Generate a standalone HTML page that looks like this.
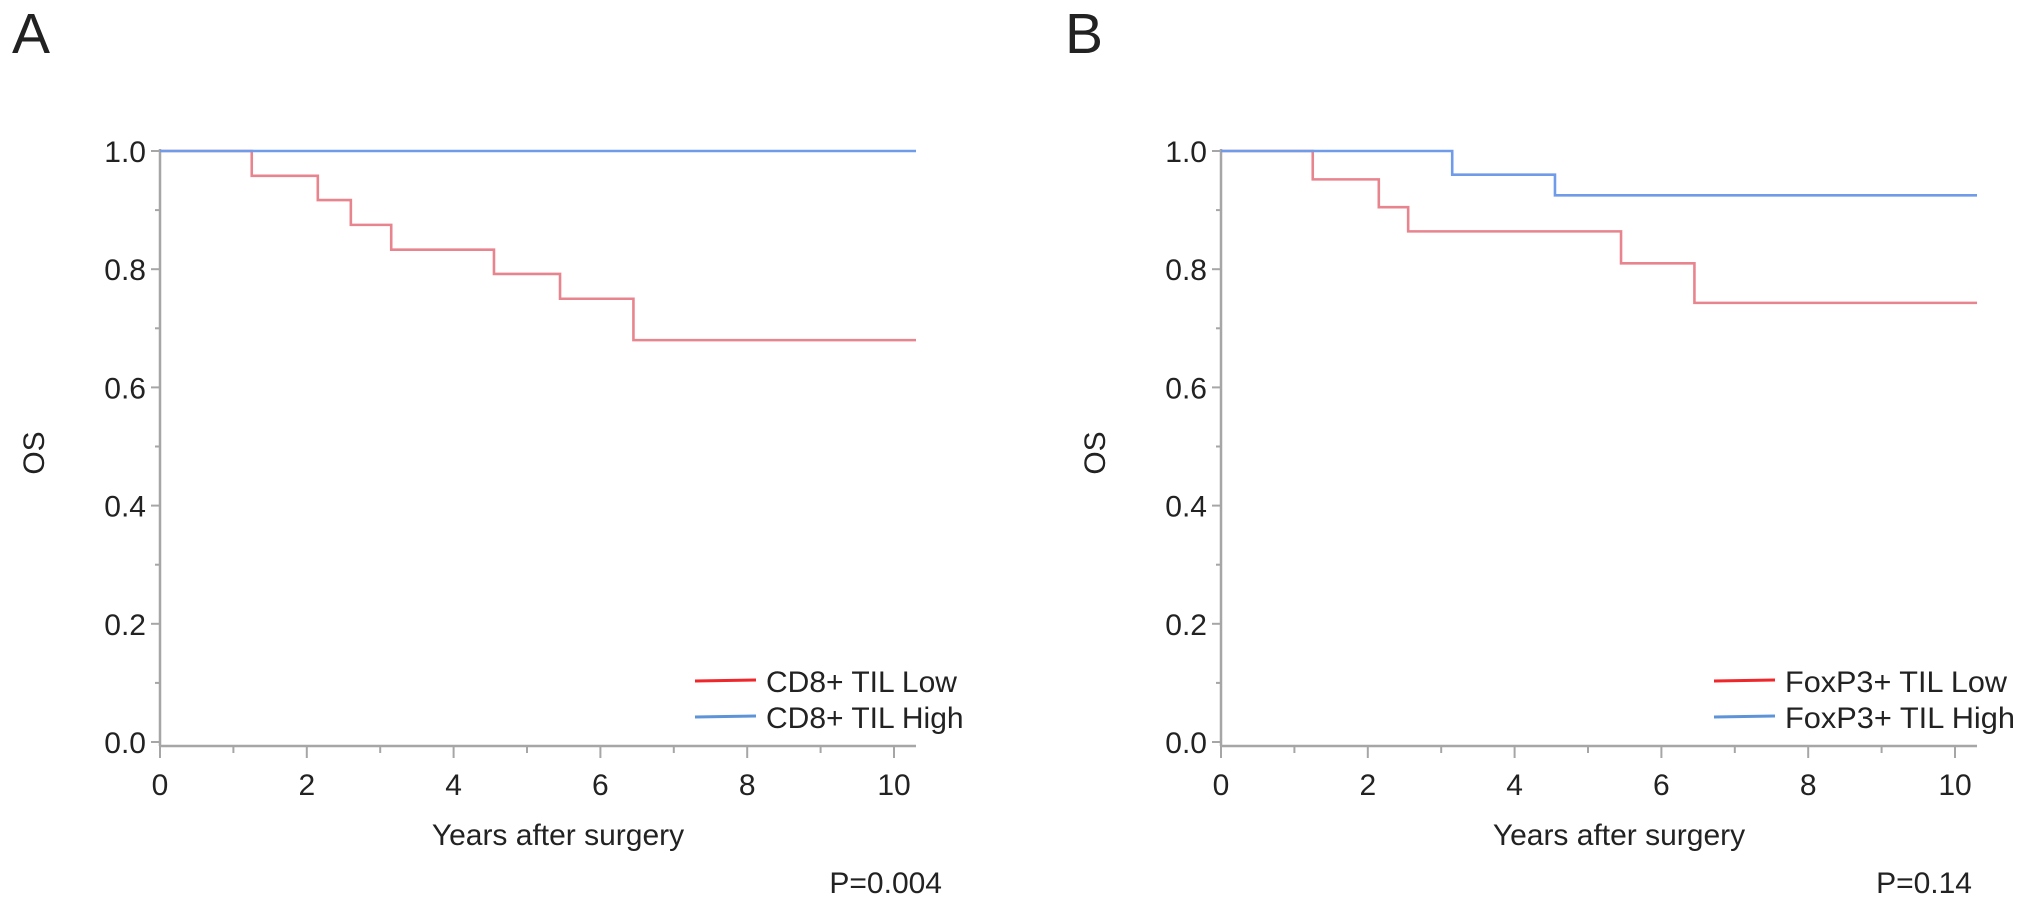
<!DOCTYPE html>
<html><head><meta charset="utf-8">
<style>
html,body{margin:0;padding:0;background:#fff;}
svg{display:block;}
text{font-family:"Liberation Sans",Arial,sans-serif;fill:#222;}
</style></head>
<body>
<svg id="fig" width="2031" height="901" viewBox="0 0 2031 901" xmlns="http://www.w3.org/2000/svg">
<text x="12" y="53" font-size="57">A</text>
<text x="1065" y="53" font-size="57">B</text>
</svg>
<script>
// Panel A data
const aLowTimes = [1.25, 2.15, 2.6, 3.15, 4.55, 5.45, 6.45];
const aLowSurv = [0.958, 0.917, 0.875, 0.833, 0.792, 0.75, 0.68];
const aHighTimes = [];
const aHighSurv = [];
// Panel B data
const bLowTimes = [1.25, 2.15, 2.55, 5.45, 6.45];
const bLowSurv = [0.952, 0.905, 0.864, 0.81, 0.743];
const bHighTimes = [3.15, 4.55];
const bHighSurv = [0.96, 0.925];
const xTicks = [0, 2, 4, 6, 8, 10];
const yTicks = ["0.0", "0.2", "0.4", "0.6", "0.8", "1.0"];
const xMax = 10.3;

const NS = "http://www.w3.org/2000/svg";
const svg = document.getElementById('fig');
function mk(tag, attrs, parent){
  const e = document.createElementNS(NS, tag);
  for (const k in attrs) e.setAttribute(k, attrs[k]);
  (parent||svg).appendChild(e);
  return e;
}
function panel(cfg){
  const g = mk('g', {});
  
  
  const x0 = cfg.x0, pxPerYear = 73.4, y0 = 742, y1 = 151;
  const X = t => x0 + t * pxPerYear;
  const Y = s => y0 + (y1 - y0) * s;
  const axisCol = '#a6a6a6';
  // y axis
  const ya = mk('line', {x1:x0, y1:Y(1)-2, x2:x0, y2:746, stroke:axisCol, 'stroke-width':2.5}, g);
  
  
  for (let i = 0; i <= 10; i++) {
    const v = i / 10, major = i % 2 === 0;
    mk('line', {x1:x0 - (major?9:5), y1:Y(v), x2:x0, y2:Y(v), stroke:axisCol, 'stroke-width':2}, g);
    if (major) {
      const t = mk('text', {x:x0 - 14, y:Y(v) + 11, 'font-size':30, 'text-anchor':'end'}, g);
      t.textContent = yTicks[i/2];
      
      
    }
  }
  // x axis
  const xa = mk('line', {x1:x0, y1:746, x2:X(xMax), y2:746, stroke:axisCol, 'stroke-width':2.5}, g);
  
  
  for (let i = 0; i <= 10; i++) {
    const major = i % 2 === 0;
    mk('line', {x1:X(i), y1:746, x2:X(i), y2:746 + (major?12:7), stroke:axisCol, 'stroke-width':2}, g);
  }
  xTicks.forEach(v => {
    const t = mk('text', {x:X(v), y:795, 'font-size':30, 'text-anchor':'middle'}, g);
    t.textContent = v;
    
    
  });
  const xt = mk('text', {x:x0 + 398, y:845, 'font-size':30, 'text-anchor':'middle'}, g);
  xt.textContent = 'Years after surgery';
  
  
  const yt = mk('text', {x:0, y:0, 'font-size':30, 'text-anchor':'middle', transform:`translate(${x0-116},453) rotate(-90)`}, g);
  yt.textContent = 'OS';
  
  
  // step curves
  function step(times, surv, color, name){
    let d = `M${X(0)},${Y(1)}`, s = 1;
    for (let i = 0; i < times.length; i++) {
      d += ` H${X(times[i])} V${Y(surv[i])}`;
      s = surv[i];
    }
    d += ` H${X(xMax)}`;
    const p = mk('path', {d:d, fill:'none', stroke:color, 'stroke-width':2.6}, g);
    
    
  }
  step(cfg.lowT, cfg.lowS, '#e8848e', 'low-til-curve');
  step(cfg.highT, cfg.highS, '#6f9be8', 'high-til-curve');
  // legend
  const lg = mk('g', {}, g);
  
  
  const entries = [[cfg.lowLabel, '#f0262b', 681], [cfg.highLabel, '#5d94d8', 717]];
  entries.forEach(e => {
    const le = mk('g', {}, lg);
    
    
    mk('line', {x1:cfg.legX, y1:e[2], x2:cfg.legX + 61, y2:e[2] - 1, stroke:e[1], 'stroke-width':3}, le);
    const t = mk('text', {x:cfg.legX + 71, y:e[2] + 11, 'font-size':30}, le);
    if (cfg.legW) { t.setAttribute('textLength', cfg.legW(e[0])); t.setAttribute('lengthAdjust', 'spacingAndGlyphs'); }
    t.textContent = e[0];
  });
  const pv = mk('text', {x:cfg.pRight, y:893, 'font-size':30, 'text-anchor':'end'}, g);
  pv.textContent = cfg.p;
  
  
}
panel({id:'panel-a', x0:160, lowT:aLowTimes, lowS:aLowSurv, highT:aHighTimes, highS:aHighSurv,
  lowLabel:'CD8+ TIL Low', highLabel:'CD8+ TIL High', legX:695, pRight:942, p:'P=0.004'});
panel({id:'panel-b', x0:1221, lowT:bLowTimes, lowS:bLowSurv, highT:bHighTimes, highS:bHighSurv,
  lowLabel:'FoxP3+ TIL Low', highLabel:'FoxP3+ TIL High', legX:1714, pRight:1972, p:'P=0.14',
  legW: s => s.indexOf('High') >= 0 ? 230 : 222});
</script>
</body></html>
